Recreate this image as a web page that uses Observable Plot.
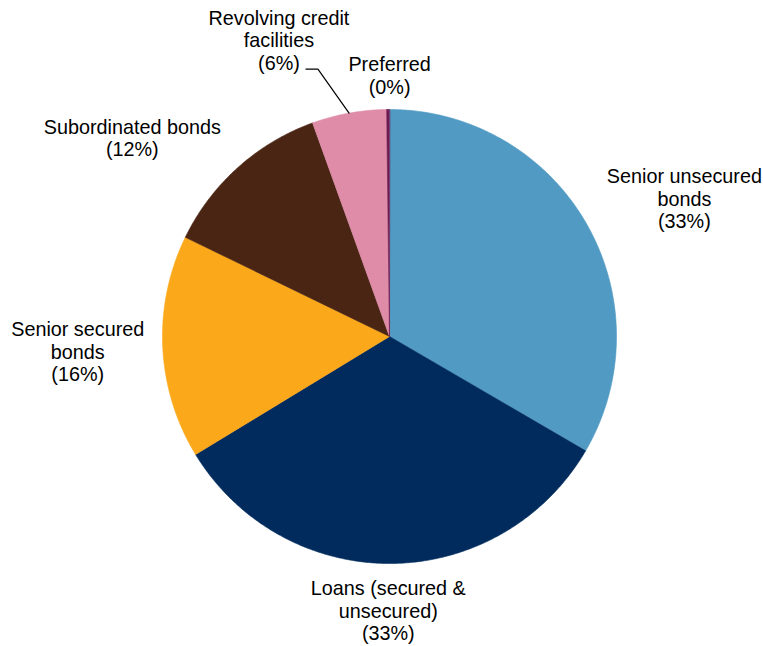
<!DOCTYPE html>
<html>
<head>
<meta charset="utf-8">
<script src="https://cdn.jsdelivr.net/npm/d3@7"></script>
<script src="https://cdn.jsdelivr.net/npm/@observablehq/plot@0.6"></script>
<style>
  html, body { margin: 0; padding: 0; background: #fff; }
  #chart svg { display: block; }
</style>
</head>
<body>
<div id="chart"></div>
<script>
// ---- data ----
const categories = [
  "Senior unsecured bonds",
  "Loans (secured & unsecured)",
  "Senior secured bonds",
  "Subordinated bonds",
  "Revolving credit facilities",
  "Preferred"
];
const shares = [33.4, 32.9, 15.9, 12.3, 5.3, 0.2];
const labelLines = [
  "Senior unsecured\nbonds\n(33%)",
  "Loans (secured &\nunsecured)\n(33%)",
  "Senior secured\nbonds\n(16%)",
  "Subordinated bonds\n(12%)",
  "Revolving credit\nfacilities\n(6%)",
  "Preferred\n(0%)"
];
const colors = ["#519ac3", "#002b5c", "#fca81b", "#4a2514", "#de8ca7", "#6e1a50"];

// ---- layout (pixels) ----
const W = 763, H = 646;
const CX = 389, CY = 336, R = 227;
const labelRadius = 1.3;
const labelNudge = { // pixel nudges from the radial anchor
  "Senior unsecured bonds": [39, 9],
  "Loans (secured & unsecured)": [-4, -21],
  "Senior secured bonds": [-17, 1],
  "Subordinated bonds": [-60, 21],
  "Revolving credit facilities": [-58, -6],
  "Preferred": [2, 34]
};

// ---- geometry from data via d3.pie ----
const rows = categories.map((c, i) => ({key: c, value: shares[i], label: labelLines[i]}));
const arcs = d3.pie().sort(null).value(d => d.value)(rows);
const polar = (a, r) => ({x: r * Math.sin(a), y: r * Math.cos(a)});

const slicePts = [];
for (const a of arcs) {
  slicePts.push({key: a.data.key, x: 0, y: 0});
  const n = Math.max(2, Math.ceil((a.endAngle - a.startAngle) / (Math.PI / 360)));
  for (let k = 0; k <= n; k++) {
    const t = a.startAngle + (a.endAngle - a.startAngle) * k / n;
    slicePts.push({key: a.data.key, ...polar(t, 1)});
  }
}

const labels = arcs.map(a => {
  const mid = (a.startAngle + a.endAngle) / 2;
  const p = polar(mid, labelRadius);
  const [dx, dy] = labelNudge[a.data.key];
  return {key: a.data.key, label: a.data.label, x: p.x + dx / R, y: p.y - dy / R, mid};
});

// leader line for the revolving credit slice
const rev = labels.find(d => d.key === "Revolving credit facilities");
const revEdge = polar(rev.mid, 1);
const leader = [
  {x: revEdge.x, y: revEdge.y},
  {x: rev.x + 39 / R, y: rev.y - 29 / R},
  {x: rev.x + 27 / R, y: rev.y - 29 / R}
];

const chart = Plot.plot({
  width: W,
  height: H,
  margin: 0,
  style: {fontFamily: "'Liberation Sans', Arial, sans-serif", background: "#fff"},
  x: {domain: [-1, 1], range: [CX - R, CX + R], axis: null},
  y: {domain: [-1, 1], range: [CY + R, CY - R], axis: null},
  color: {domain: categories, range: colors},
  marks: [
    Plot.line(slicePts, {x: "x", y: "y", z: "key", fill: "key", stroke: "key", strokeWidth: 0.6, curve: "linear-closed"}),
    Plot.line(leader, {x: "x", y: "y", stroke: "#000", strokeWidth: 1.2}),
    Plot.text(labels, {x: "x", y: "y", text: "label", fontSize: 19.8, lineHeight: 1.14, fill: "#000", textAnchor: "middle", lineAnchor: "middle"})
  ]
});
document.getElementById("chart").appendChild(chart);
</script>
</body>
</html>
